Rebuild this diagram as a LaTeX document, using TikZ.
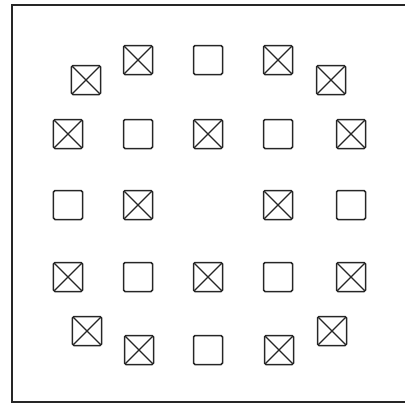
\documentclass[tikz,border=0pt]{standalone}
\usepackage{tikz}
\tikzset{
  frameline/.style = {line width=1.8bp, draw=black!85, line cap=rect},
  cell/.style      = {draw=black!85, line width=1.5bp, rounded corners=1.5pt,
                      minimum size=29bp, inner sep=0pt},
  xcell/.style     = {cell, path picture={
                        \draw[line width=1.1bp, black!85]
                          (path picture bounding box.north west) -- (path picture bounding box.south east)
                          (path picture bounding box.north east) -- (path picture bounding box.south west);}},
}

\begin{document}
\begin{tikzpicture}[x=1bp, y=-1bp]

  \useasboundingbox (0,0) rectangle (405,407);

  % open frame, cut by the right edge
  \draw[frameline] (405,5) -- (12,5) -- (12,402) -- (405,402);

  % top arc
  \node[xcell] (a1) at (86,80)   {};
  \node[xcell] (a2) at (138,60)  {};
  \node[cell]  (a3) at (208,60)  {};
  \node[xcell] (a4) at (278,60)  {};
  \node[xcell] (a5) at (331,80)  {};

  % second row
  \node[xcell] (b1) at (68,134)  {};
  \node[cell]  (b2) at (138,134) {};
  \node[xcell] (b3) at (208,134) {};
  \node[cell]  (b4) at (278,134) {};
  \node[xcell] (b5) at (351,134) {};

  % middle row, centre left empty
  \node[cell]  (c1) at (68,205)  {};
  \node[xcell] (c2) at (138,205) {};
  \node[xcell] (c4) at (278,205) {};
  \node[cell]  (c5) at (351,205) {};

  % fourth row
  \node[xcell] (d1) at (68,277)  {};
  \node[cell]  (d2) at (138,277) {};
  \node[xcell] (d3) at (208,277) {};
  \node[cell]  (d4) at (278,277) {};
  \node[xcell] (d5) at (351,277) {};

  % bottom arc
  \node[xcell] (e1) at (87,331)  {};
  \node[xcell] (e2) at (139,350) {};
  \node[cell]  (e3) at (208,350) {};
  \node[xcell] (e4) at (279,350) {};
  \node[xcell] (e5) at (332,331) {};

\end{tikzpicture}
\end{document}
